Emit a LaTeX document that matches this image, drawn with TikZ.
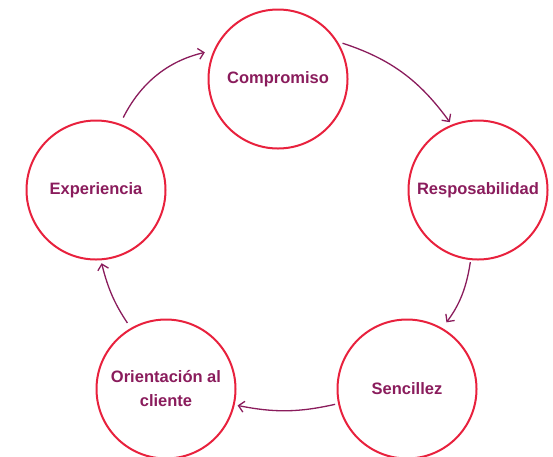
\documentclass[tikz,border=0pt]{standalone}
\usepackage{fontspec}
\setmainfont{Liberation Sans}
\usetikzlibrary{arrows.meta}
\definecolor{ringred}{HTML}{E8213D}
\definecolor{plum}{HTML}{8A1C5C}
\begin{document}
\begin{tikzpicture}[x=1pt,y=-1pt,
  valuecircle/.style={circle, draw=ringred, line width=2pt, minimum size=139pt, inner sep=0pt,
    text=plum, align=center, font=\bfseries\fontsize{16.5}{24}\selectfont},
  cyclearrow/.style={draw=plum, line width=1.3pt, -{Straight Barb[length=5.5pt,width=11pt,line width=1.3pt]}}]
\useasboundingbox (0,0) rectangle (553,456);
\node[valuecircle] (comp) at (278,79) {Compromiso};
\node[valuecircle] (resp) at (478,190) {Resposabilidad};
\node[valuecircle] (senc) at (407,389) {Sencillez};
\node[valuecircle] (orie) at (166,389) {Orientación al\\cliente};
\node[valuecircle] (expe) at (96,190) {Experiencia};
\draw[cyclearrow, shorten <=7pt, shorten >=9pt] (expe.70) to[bend left=25] (comp.156);
\draw[cyclearrow, shorten <=5pt, shorten >=3pt] (comp.32) to[bend left=18] (resp.112);
\draw[cyclearrow, shorten <=2pt, shorten >=7pt] (resp.264) to[bend left=14] (senc.60);
\draw[cyclearrow, shorten <=3pt, shorten >=3pt] (senc.192) to[bend left=12] (orie.-13);
\draw[cyclearrow, shorten <=6pt, shorten >=3pt] (orie.120) to[bend left=10] (expe.274);
\end{tikzpicture}
\end{document}
